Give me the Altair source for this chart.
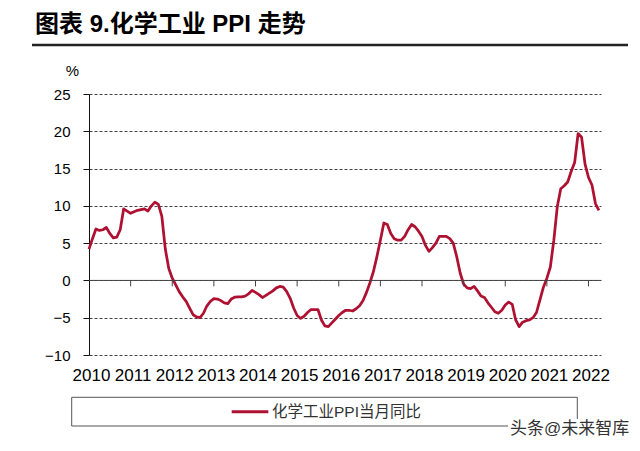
import altair as alt
import pandas as pd

title_text = "图表 9.化学工业 PPI 走势"
series_name = "化学工业PPI当月同比"
watermark = "头条@未来智库"
unit_label = "%"
years = list(range(2010, 2023))
y_ticks = [-10, -5, 0, 5, 10, 15, 20, 25]

# 化学工业PPI当月同比 (%), monthly from 2010-01
ppi_2010 = [4.2, 5.6, 6.9, 6.7, 6.8, 7.1, 6.3, 5.7, 5.8, 6.8, 9.6, 9.3]
ppi_2011 = [9.0, 9.2, 9.4, 9.5, 9.6, 9.3, 10.0, 10.5, 10.2, 8.6, 4.2, 1.6]
ppi_2012 = [0.3, -0.6, -1.5, -2.2, -2.8, -3.7, -4.6, -4.9, -5.0, -4.4, -3.4, -2.8]
ppi_2013 = [-2.45, -2.5, -2.7, -3.0, -3.1, -2.5, -2.25, -2.2, -2.2, -2.1, -1.8, -1.35]
ppi_2014 = [-1.6, -1.9, -2.3, -2.0, -1.7, -1.4, -1.0, -0.8, -0.9, -1.5, -2.4, -3.7]
ppi_2015 = [-4.7, -5.1, -4.8, -4.3, -3.9, -3.9, -3.9, -5.3, -6.1, -6.2, -5.7, -5.2]
ppi_2016 = [-4.7, -4.3, -4.0, -4.0, -4.1, -3.8, -3.4, -2.7, -1.6, -0.3, 1.2, 3.2]
ppi_2017 = [5.4, 7.7, 7.5, 6.3, 5.6, 5.4, 5.4, 5.9, 6.8, 7.5, 7.2, 6.6]
ppi_2018 = [5.9, 4.7, 3.9, 4.4, 5.0, 5.9, 5.9, 5.9, 5.6, 5.0, 3.2, 1.0]
ppi_2019 = [-0.5, -1.0, -1.1, -0.8, -1.4, -2.1, -2.3, -3.0, -3.6, -4.2, -4.4, -4.0]
ppi_2020 = [-3.3, -2.9, -3.2, -5.3, -6.2, -5.6, -5.4, -5.3, -5.0, -4.3, -2.6, -0.9]
ppi_2021 = [0.3, 1.8, 5.4, 9.9, 12.3, 12.7, 13.2, 14.6, 15.8, 19.7, 19.2, 15.6]
ppi_2022 = [13.8, 12.8, 10.3, 9.4]

values = (ppi_2010 + ppi_2011 + ppi_2012 + ppi_2013 + ppi_2014 + ppi_2015 + ppi_2016
          + ppi_2017 + ppi_2018 + ppi_2019 + ppi_2020 + ppi_2021 + ppi_2022)
df = pd.DataFrame({"m": list(range(len(values))), "v": values})
year_starts = [12 * i for i in range(len(years))]
ticks_df = pd.DataFrame({"m": year_starts[1:]})

W, H = 512, 261
RED = "#AE1131"

xscale = alt.Scale(domain=[0, 147.6], nice=False, zero=False)
yscale = alt.Scale(domain=[-10, 25], nice=False, zero=False)

xaxis = alt.Axis(values=year_starts,
                 labelExpr="'' + (%d + round(datum.value / 12))" % years[0],
                 ticks=False, domain=False, grid=False, labelOverlap=False,
                 labelFlush=False,
                 labelFont="Liberation Sans Narrow, Arial Narrow, Liberation Sans",
                 labelFontSize=17, labelColor="#000", labelPadding=12,
                 labelOffset=2, title=None)
yaxis = alt.Axis(values=y_ticks, grid=True, gridDash=[3, 2], gridColor="#444",
                 gridWidth=1, domain=True, domainColor="#111", ticks=True,
                 tickSize=6, tickColor="#111", labelFont="Liberation Sans",
                 labelFontSize=15, labelColor="#000", labelPadding=13,
                 labelOverlap=False, labelFlush=False, format="d", title=None)

one = pd.DataFrame({"k": [0]})

line = alt.Chart(df).mark_line(color=RED, strokeWidth=2.75, strokeJoin="round").encode(
    x=alt.X("m:Q", scale=xscale, axis=xaxis),
    y=alt.Y("v:Q", scale=yscale, axis=yaxis))

zero_line = alt.Chart(one).mark_rule(color="#444", strokeWidth=1).encode(
    y=alt.Y(datum=0, scale=yscale, axis=yaxis))

year_ticks = alt.Chart(ticks_df).mark_rule(color="#444", strokeWidth=1).encode(
    x=alt.X("m:Q", scale=xscale, axis=xaxis),
    y=alt.Y(datum=0, scale=yscale, axis=yaxis), y2=alt.datum(-0.8))

title = alt.Chart(pd.DataFrame({"t": [title_text]})).mark_text(
    align="left", baseline="middle", font="Liberation Sans, Noto Sans CJK SC",
    fontSize=24, fontWeight="bold", color="#000").encode(
    x=alt.value(-54), y=alt.value(-69), text="t:N")

title_rule = alt.Chart(one).mark_rule(color="#222", strokeWidth=2.5).encode(
    x=alt.value(-57), x2=alt.value(539), y=alt.value(-49))

unit = alt.Chart(pd.DataFrame({"t": [unit_label]})).mark_text(
    align="center", baseline="middle", font="Liberation Sans", fontSize=15,
    color="#000").encode(x=alt.value(-16.5), y=alt.value(-23), text="t:N")

legend_box = alt.Chart(one).mark_rect(fill="white", stroke="#555", strokeWidth=1).encode(
    x=alt.value(-17.3), x2=alt.value(488.3), y=alt.value(303.3), y2=alt.value(332))

legend_line = alt.Chart(one).mark_rule(color=RED, strokeWidth=3).encode(
    x=alt.value(142.7), x2=alt.value(179.3), y=alt.value(317.7))

legend_text = alt.Chart(pd.DataFrame({"t": [series_name]})).mark_text(
    align="left", baseline="middle", font="Liberation Sans, Noto Sans CJK SC",
    fontSize=15.5, color="#333").encode(x=alt.value(183), y=alt.value(317.7), text="t:N")

wm_bg = alt.Chart(one).mark_rect(fill="white").encode(
    x=alt.value(419), x2=alt.value(492), y=alt.value(325), y2=alt.value(345))

wm = alt.Chart(pd.DataFrame({"t": [watermark]})).mark_text(
    align="left", baseline="middle", font="Liberation Sans, Noto Sans CJK SC",
    fontSize=17, color="#333").encode(x=alt.value(421), y=alt.value(335), text="t:N")

chart = alt.layer(line, zero_line, year_ticks, title, title_rule, unit,
                  legend_box, legend_line, legend_text, wm_bg, wm).properties(
    width=W, height=H,
    padding={"left": 81, "top": 86, "right": 31, "bottom": 85},
    autosize=alt.AutoSizeParams(type="none"),
    background="white",
).configure_view(stroke=None)

chart.save("out.html", embed_options={"renderer": "svg", "actions": False})
